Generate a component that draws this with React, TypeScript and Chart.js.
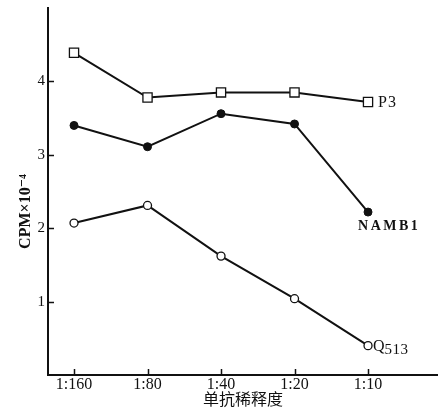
import React, { useEffect, useRef } from "react";
import { Chart, registerables } from "chart.js";

Chart.register(...registerables);

const categories = ["1:160", "1:80", "1:40", "1:20", "1:10"];
const yTickValues = [1, 2, 3, 4];
const seriesNames = ["P3", "NAMB1", "Q513"];
const p3Values = [4.39, 3.78, 3.85, 3.85, 3.72];
const namb1Values = [3.40, 3.11, 3.56, 3.42, 2.22];
const q513Values = [2.07, 2.31, 1.62, 1.04, 0.40];
const xTitle = "单抗稀释度";
const yTitle = "CPM×10⁻⁴";

const SERIF = "'Liberation Serif', 'DejaVu Serif', serif";
const INK = "#111";

const toPoints = (vals: number[]) => vals.map((v, i) => ({ x: i, y: v }));

const innerTicks = {
  id: "innerTicks",
  afterDraw(chart: any) {
    const ctx = chart.ctx;
    const xs = chart.scales.x;
    const ys = chart.scales.y;
    const area = chart.chartArea;
    ctx.save();
    ctx.strokeStyle = INK;
    ctx.lineWidth = 1.5;
    ctx.beginPath();
    yTickValues.forEach((v) => {
      const py = Math.round(ys.getPixelForValue(v)) + 0.5;
      ctx.moveTo(area.left, py);
      ctx.lineTo(area.left + 6, py);
    });
    categories.forEach((_, i) => {
      const px = Math.round(xs.getPixelForValue(i)) + 0.5;
      ctx.moveTo(px, area.bottom);
      ctx.lineTo(px, area.bottom - 6);
    });
    ctx.stroke();
    ctx.restore();
  },
};

const endLabels = {
  id: "endLabels",
  afterDatasetsDraw(chart: any) {
    const ctx = chart.ctx;
    ctx.save();
    ctx.fillStyle = INK;
    chart.data.datasets.forEach((ds: any, di: number) => {
      const meta = chart.getDatasetMeta(di);
      const pt = meta.data[meta.data.length - 1];
      if (!pt) return;
      const name = seriesNames[di];
      ctx.textAlign = "left";
      ctx.textBaseline = "middle";
      if (di === 0) {
        ctx.font = `16px ${SERIF}`;
        (ctx as any).letterSpacing = "1px";
        ctx.fillText(name, pt.x + 10, pt.y + 1);
        (ctx as any).letterSpacing = "0px";
      } else if (di === 1) {
        ctx.font = `bold 14px ${SERIF}`;
        (ctx as any).letterSpacing = "2.5px";
        ctx.fillText(name, pt.x - 10, pt.y + 14);
        (ctx as any).letterSpacing = "0px";
      } else {
        ctx.font = `16px ${SERIF}`;
        const first = name.slice(0, 1);
        ctx.fillText(first, pt.x + 5, pt.y + 1);
        const w = ctx.measureText(first).width;
        ctx.font = `15px ${SERIF}`;
        (ctx as any).letterSpacing = "0.5px";
        ctx.fillText(name.slice(1), pt.x + 5 + w, pt.y + 4);
        (ctx as any).letterSpacing = "0px";
      }
    });
    ctx.restore();
  },
};

export default function App() {
  const ref = useRef<HTMLCanvasElement | null>(null);
  useEffect(() => {
    if (!ref.current) return;
    const chart = new Chart(ref.current, {
      type: "line",
      data: {
        datasets: [
          {
            label: seriesNames[0],
            data: toPoints(p3Values),
            borderColor: INK,
            borderWidth: 2,
            pointStyle: "rect",
            pointRadius: 6.5,
            pointBackgroundColor: "#fff",
            pointBorderColor: INK,
            pointBorderWidth: 1.3,
          },
          {
            label: seriesNames[1],
            data: toPoints(namb1Values),
            borderColor: INK,
            borderWidth: 2,
            pointStyle: "circle",
            pointRadius: 4,
            pointBackgroundColor: INK,
            pointBorderColor: INK,
            pointBorderWidth: 1,
          },
          {
            label: seriesNames[2],
            data: toPoints(q513Values),
            borderColor: INK,
            borderWidth: 2,
            pointStyle: "circle",
            pointRadius: 4,
            pointBackgroundColor: "#fff",
            pointBorderColor: INK,
            pointBorderWidth: 1.3,
          },
        ],
      },
      options: {
        responsive: false,
        animation: false,
        devicePixelRatio: 1,
        layout: { autoPadding: false, padding: { top: 8, right: 0, left: 0, bottom: 0 } },
        plugins: { legend: { display: false }, tooltip: { enabled: false } },
        scales: {
          x: {
            type: "linear",
            min: -0.354,
            max: 4.952,
            afterFit: (s: any) => {
              s.height = 35;
              s.paddingLeft = 0;
              s.paddingRight = 0;
            },
            afterBuildTicks: (s: any) => {
              s.ticks = categories.map((_, i) => ({ value: i }));
            },
            grid: { display: false, drawTicks: false },
            border: { display: true, color: INK, width: 2 },
            ticks: {
              autoSkip: false,
              maxRotation: 0,
              padding: 0,
              color: INK,
              font: { family: SERIF, size: 16 },
              callback: (v: any) => categories[v as number] ?? "",
            },
            title: {
              display: true,
              text: xTitle,
              color: INK,
              font: { family: "'Noto Sans CJK SC', sans-serif", size: 16 },
              padding: { top: 0, bottom: 1 },
            },
          },
          y: {
            type: "linear",
            min: 0,
            max: 5.0,
            afterFit: (s: any) => {
              s.width = 48;
              s.paddingTop = 0;
              s.paddingBottom = 0;
            },
            afterBuildTicks: (s: any) => {
              s.ticks = yTickValues.map((v) => ({ value: v }));
            },
            grid: { display: false, drawTicks: false },
            border: { display: true, color: INK, width: 2 },
            ticks: {
              padding: 3,
              color: INK,
              font: { family: SERIF, size: 15 },
            },
            title: {
              display: true,
              text: yTitle + "\u2003\u2003\u2002",
              color: INK,
              font: { family: SERIF, size: 16, weight: "bold" },
              padding: { top: 16, bottom: 0 },
            },
          },
        },
      },
      plugins: [innerTicks, endLabels],
    });
    return () => chart.destroy();
  }, []);
  return (
    <div style={{ position: "fixed", left: 0, top: 0, width: 438, height: 410, background: "#fff" }}>
      <canvas ref={ref} width={438} height={410} />
    </div>
  );
}
